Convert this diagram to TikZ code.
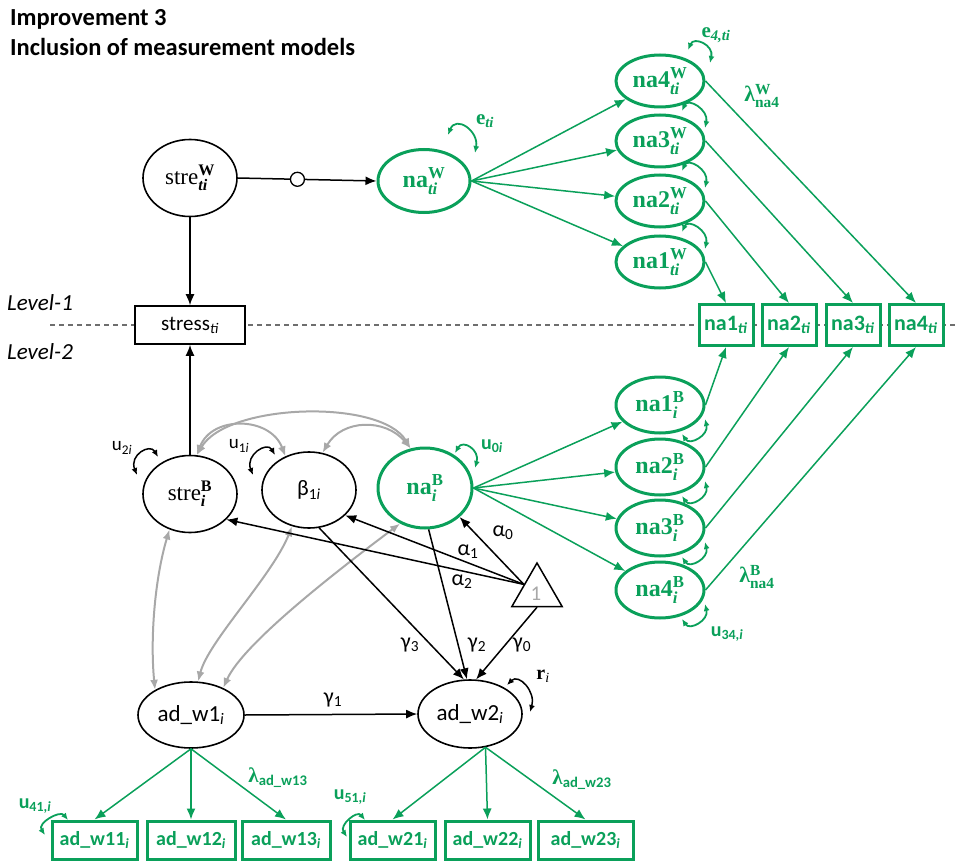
\documentclass[tikz,border=0pt]{standalone}
\usepackage{amsmath}
\usepackage{fontspec}
\setmainfont{Liberation Serif}
\newfontfamily\carl{Carlito}
\newfontfamily\grk{Liberation Serif}
\usetikzlibrary{arrows.meta,shapes.geometric,calc}
\definecolor{gr}{RGB}{10,160,90}
\definecolor{gy}{RGB}{168,168,168}
\definecolor{dline}{RGB}{110,110,110}
\newcommand{\bsub}[1]{\textbf{\textit{#1}}}
\tikzset{
 lat/.style={ellipse,draw,line width=1.6pt,inner sep=0pt,font=\fontsize{23}{26}\selectfont},
 glat/.style={ellipse,draw=gr,text=gr,line width=3pt,inner sep=0pt,font=\fontsize{24}{26}\selectfont},
 obs/.style={rectangle,draw,line width=1.6pt,fill=white,inner sep=0pt,font=\fontsize{21}{24}\selectfont\carl},
 gobs/.style={rectangle,draw=gr,text=gr,line width=3pt,fill=white,inner sep=0pt,font=\fontsize{20}{24}\selectfont\carl\bfseries},
 blk/.style={line width=1.5pt,-{Latex[length=11pt,width=9pt]}},
 grn/.style={draw=gr,line width=1.5pt,-{Latex[length=11pt,width=9pt]}},
 gcov/.style={draw=gy,line width=2pt,{Latex[length=10pt,width=8pt]}-{Latex[length=10pt,width=8pt]}},
 bloop/.style={line width=1.5pt,{Latex[length=7pt,width=6pt]}-{Latex[length=7pt,width=6pt]}},
 gloop/.style={draw=gr,line width=1.8pt,{Latex[length=7pt,width=6pt]}-{Latex[length=7pt,width=6pt]}},
 lab/.style={inner sep=0pt,font=\fontsize{22}{24}\selectfont\carl},
 slab/.style={inner sep=0pt,font=\fontsize{19}{22}\selectfont\carl},
 glab/.style={inner sep=0pt,text=gr,font=\fontsize{20}{22}\selectfont\carl\bfseries},
 gmlab/.style={inner sep=0pt,text=gr,font=\fontsize{21}{22}\selectfont},
}
\begin{document}
\begin{tikzpicture}[x=1pt,y=-1pt]
\useasboundingbox (0,0) rectangle (958,861);
% title
\node[anchor=base west,inner sep=0pt,font=\fontsize{24.5}{28}\selectfont\carl\bfseries] (t1) at (10,26) {Improvement 3};
\node[anchor=base west,inner sep=0pt,font=\fontsize{24.5}{28}\selectfont\carl\bfseries] (t2) at (10,56) {Inclusion of measurement models};
% level line
\coordinate (dl) at (50,325);
\coordinate (dr) at (958,325);
\draw[dline,line width=1.3pt,dash pattern=on 5pt off 4pt] (dl) -- (dr);
\node[anchor=west,inner sep=0pt,font=\fontsize{23}{28}\selectfont\carl\itshape] (lv1) at (7,303) {Level-1};
\node[anchor=west,inner sep=0pt,font=\fontsize{23}{28}\selectfont\carl\itshape] (lv2) at (7,352) {Level-2};

% within part
\node[lat,minimum width=94pt,minimum height=77pt] (stresW) at (190,178) {stre$^{\textbf{W}}_{\bsub{ti}}$};
\node[glat,minimum width=92pt,minimum height=63pt] (naW) at (424,181) {\textbf{na}$^{\textbf{W}}_{\bsub{ti}}$};
\foreach \k/\y in {4/81,3/141,2/201,1/262}
  \node[glat,minimum width=88pt,minimum height=52pt] (naW\k) at (660,\y) {\textbf{na\k}$^{\textbf{W}}_{\bsub{ti}}$};
\foreach \k/\x in {1/726,2/789,3/853,4/916}
  \node[gobs,minimum width=54pt,minimum height=41pt,font=\fontsize{22}{24}\selectfont\carl\bfseries] (box\k) at (\x,325) {na\k\textsubscript{\textit{ti}}};
\foreach \k/\y in {1/405,2/467,3/528,4/590}
  \node[glat,minimum width=88pt,minimum height=56pt] (naB\k) at (660,\y) {\textbf{na\k}$^{\textbf{B}}_{\bsub{i}}$};

\node[obs,minimum width=110pt,minimum height=38pt] (stress) at (190,325) {stress\textsubscript{\textit{ti}}};

% between part
\node[lat,minimum width=94pt,minimum height=77pt] (stresB) at (190,494) {stre$^{\textbf{B}}_{\bsub{i}}$};
\node[lat,minimum width=94pt,minimum height=76pt,font=\fontsize{22}{24}\selectfont\carl] (beta) at (309,490) {β\textsubscript{1\textit{i}}};
\node[glat,minimum width=94pt,minimum height=80pt] (naB) at (425,488) {\textbf{na}$^{\textbf{B}}_{\bsub{i}}$};
\node[regular polygon,regular polygon sides=3,draw,line width=1.5pt,minimum size=58pt,inner sep=0pt] (tri) at (537,592) {};
\node[text=gy,inner sep=0pt,font=\fontsize{21}{24}\selectfont\carl] (one) at (536,594) {1};
\node[lat,minimum width=106pt,minimum height=66pt,font=\fontsize{23}{24}\selectfont\carl] (adw1) at (191,715) {ad\_w1\textsubscript{\textit{i}}};
\node[lat,minimum width=104pt,minimum height=68pt,font=\fontsize{23}{24}\selectfont\carl] (adw2) at (470,714) {ad\_w2\textsubscript{\textit{i}}};

% indicator boxes bottom
\node[gobs,minimum width=85pt,minimum height=38pt] (a11) at (94.5,840) {ad\_w11\textsubscript{\textit{i}}};
\node[gobs,minimum width=88pt,minimum height=38pt] (a12) at (191,840) {ad\_w12\textsubscript{\textit{i}}};
\node[gobs,minimum width=88pt,minimum height=38pt] (a13) at (286,840) {ad\_w13\textsubscript{\textit{i}}};
\node[gobs,minimum width=85pt,minimum height=38pt] (a21) at (392.5,840) {ad\_w21\textsubscript{\textit{i}}};
\node[gobs,minimum width=85pt,minimum height=38pt] (a22) at (487.5,840) {ad\_w22\textsubscript{\textit{i}}};
\node[gobs,minimum width=95pt,minimum height=38pt] (a23) at (585.5,840) {ad\_w23\textsubscript{\textit{i}}};

% structural arrows
\draw[blk] (stresW) -- (stress);
\draw[blk] (stresB) -- (stress);
\draw[blk] (stresW.east) -- node[pos=0.43,circle,draw,fill=white,line width=1.3pt,minimum size=14pt,inner sep=0pt] (ring) {} (naW.west);

% measurement arrows
\foreach \k in {1,...,4} {
  \draw[grn] (naW.east) -- (naW\k);
  \draw[grn] (naW\k.east) -- (box\k.north);
  \draw[grn] (naB.east) -- (naB\k);
  \draw[grn] (naB\k.east) -- (box\k.south);
}
\foreach \k in {1,2,3}
  \draw[gloop] ([shift={(22,-30)}]naW\k.center) .. controls +(6,-14) and +(4,-18) .. ([shift={(45,-13)}]naW\k.center);
\draw[gloop] ([shift={(28,-31)}]naW4.center) .. controls +(6,-14) and +(4,-18) .. ([shift={(50,-18)}]naW4.center);
\foreach \k in {1,...,4}
  \draw[gloop] ([shift={(22,29)}]naB\k.center) .. controls +(8,12) and +(4,16) .. ([shift={(45,14)}]naB\k.center);
\draw[gloop] ([shift={(24,-46)}]naW.center) .. controls +(8,-20) and +(4,-22) .. ([shift={(51,-28)}]naW.center);
\draw[gloop] ([shift={(30,-35)}]naB.center) .. controls +(8,-14) and +(5,-18) .. ([shift={(50,-20)}]naB.center);

% covariances
\draw[gcov] (stresB.80) .. controls +(30,-52) and +(-30,-50) .. (naB.110);
\draw[gcov] (stresB.80) .. controls +(15,-40) and +(-15,-40) .. (beta.125);
\draw[gcov] (beta.70) .. controls +(20,-34) and +(-25,-30) .. (naB.110);
\draw[gcov] (stresB.240) .. controls +(-15,50) and +(-5,-50) .. (adw1.145);
\draw[gcov] (beta.245) .. controls +(-20,50) and +(10,-40) .. (adw1.78);
\draw[gcov] (naB.235) .. controls +(-60,45) and +(20,-45) .. (adw1.40);

% random effect loops level 2
\draw[bloop] ([shift={(-53,-19)}]stresB.center) .. controls +(-8,-20) and +(-8,-14) .. ([shift={(-32,-37)}]stresB.center);
\draw[bloop] ([shift={(-56,-15)}]beta.center) .. controls +(-8,-20) and +(-8,-14) .. ([shift={(-34,-35)}]beta.center);
\draw[bloop] ([shift={(37,-29)}]adw2.center) .. controls +(12,-12) and +(6,-20) .. ([shift={(60,-2)}]adw2.center);
\draw[gloop] ([shift={(-26.5,-20)}]a11.center) .. controls +(-8,-10) and +(-8,-12) .. ([shift={(-49.5,-5)}]a11.center);
\draw[gloop] ([shift={(-27.5,-20)}]a21.center) .. controls +(-8,-10) and +(-8,-12) .. ([shift={(-45.5,-3)}]a21.center);

% regressions
\draw[blk] (tri.side 1) -- (stresB.-35);
\draw[blk] (tri.side 1) -- (beta.-35);
\draw[blk] (tri.side 1) -- (naB.-40);
\draw[blk] (beta.-75) -- (adw2.100);
\draw[blk] (naB.-85) -- (adw2.95);
\draw[blk] (tri.side 2) -- (adw2.80);
\draw[blk] (adw1.east) -- (adw2.west);

% bottom measurement
\draw[grn] (adw1.south) -- (a11.north);
\draw[grn] (adw1.south) -- (a12.north);
\draw[grn] (adw1.south) -- (a13.north);
\draw[grn] (adw2.-65) -- (a21.north);
\draw[grn] (adw2.-65) -- (a22.north);
\draw[grn] (adw2.-65) -- (a23.north);

% labels
\node[gmlab] (le) at (485,121) {\textbf{e}$_{\bsub{ti}}$};
\node[gmlab] (le4) at (716,35) {\textbf{e}$_{\bsub{4,ti}}$};
\node[gmlab,font=\fontsize{22}{24}\selectfont] (lamW) at (762,96) {{\grk\bfseries λ}$^{\textbf{W}}_{\textbf{na4}}$};
\node[gmlab,font=\fontsize{22}{24}\selectfont] (lamB) at (757,577) {{\grk\bfseries λ}$^{\textbf{B}}_{\textbf{na4}}$};
\node[glab] (u34) at (727,634) {u\textsubscript{34,\textit{i}}};
\node[glab] (u0) at (492,446) {u\textsubscript{0\textit{i}}};
\node[glab] (u41) at (35,806) {u\textsubscript{41,\textit{i}}};
\node[glab] (u51) at (350,797) {u\textsubscript{51,\textit{i}}};
\node[glab,font=\fontsize{21}{24}\selectfont\carl\bfseries] (lam13) at (278,778) {{\grk\bfseries λ}\textsubscript{ad\_w13}};
\node[glab,font=\fontsize{21}{24}\selectfont\carl\bfseries] (lam23) at (582,780) {{\grk\bfseries λ}\textsubscript{ad\_w23}};
\node[slab] (u2) at (122,448) {u\textsubscript{2\textit{i}}};
\node[slab] (u1) at (239,446) {u\textsubscript{1\textit{i}}};
\node[inner sep=0pt,font=\fontsize{20}{22}\selectfont] (ri) at (543,676) {\textbf{r}\textsubscript{\textit{i}}};
\node[lab] (al0) at (503,533) {α\textsubscript{0}};
\node[lab] (al1) at (468,552) {α\textsubscript{1}};
\node[lab] (al2) at (462,582) {α\textsubscript{2}};
\node[lab] (ga3) at (410,645) {γ\textsubscript{3}};
\node[lab] (ga2) at (477,645) {γ\textsubscript{2}};
\node[lab] (ga0) at (522,645) {γ\textsubscript{0}};
\node[lab] (ga1) at (333,700) {γ\textsubscript{1}};
\end{tikzpicture}
\end{document}
